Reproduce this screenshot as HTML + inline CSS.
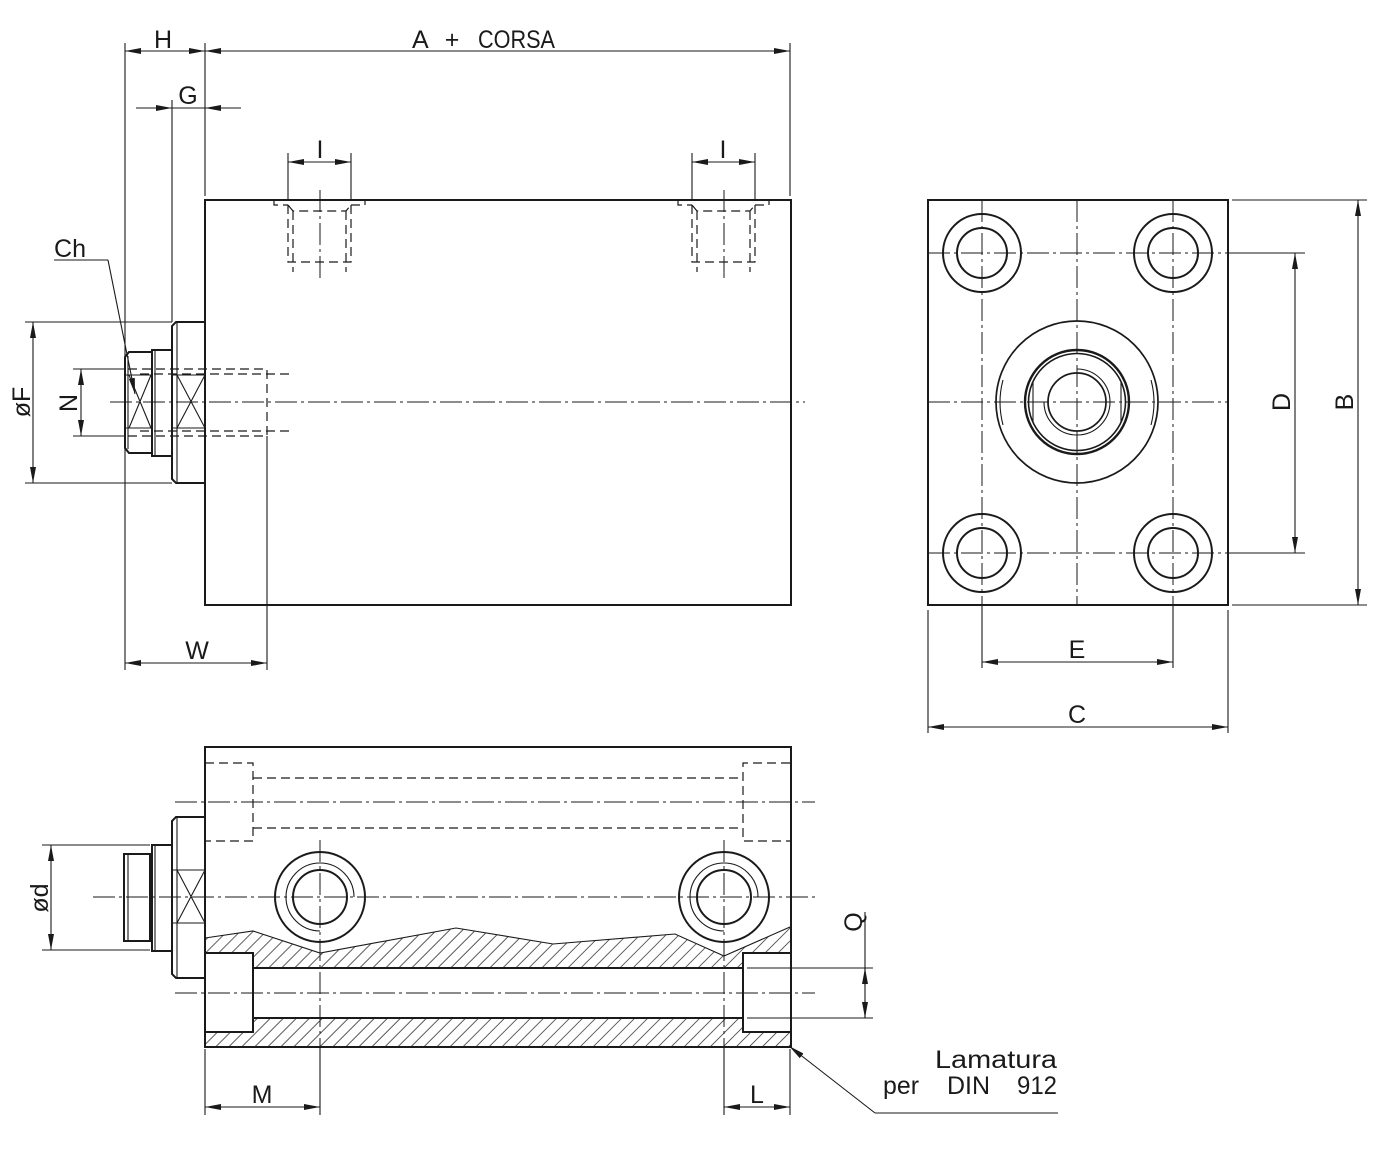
<!DOCTYPE html>
<html><head><meta charset="utf-8">
<style>
html,body{margin:0;padding:0;background:#fff;}
svg{display:block}
text{font-family:"Liberation Sans",sans-serif;fill:#1a1a1a;font-size:25px;}
</style></head><body>
<svg width="1400" height="1166" viewBox="0 0 1400 1166" xmlns="http://www.w3.org/2000/svg">
<defs>
<marker id="ar" viewBox="0 0 16 6" refX="16" refY="3" markerWidth="16" markerHeight="6" markerUnits="userSpaceOnUse" orient="auto-start-reverse"><path d="M0,0 L16,3 L0,6 z" fill="#1a1a1a"/></marker>
<pattern id="hat" patternUnits="userSpaceOnUse" width="9.2" height="9.2" patternTransform="rotate(45)"><line x1="0" y1="0" x2="0" y2="9.2" stroke="#1a1a1a" stroke-width="1.4"/></pattern>
</defs>

<!-- hatch fills -->
<path d="M205,938 L253,931 L320,953 L456,928 L553,944 L675,934 L724,956 L790,927 V953 H743 V968 H253 V953 H205 Z" fill="url(#hat)" stroke="none"/>
<path d="M253,1018 H743 V1032 H790 V1047 H205 V1032 H253 Z" fill="url(#hat)" stroke="none"/>

<!-- THICK OUTLINES -->
<g fill="none" stroke="#1a1a1a" stroke-width="2">
  <rect x="205" y="200" width="586" height="405"/>
  <path d="M176,322 H205 V483 H176 L172,479 V326 Z"/>
  <path d="M152,350 H172 V456 H152 Z"/>
  <path d="M129,352 H152 V453 H129 L125,448 V357 Z"/>
  <rect x="928" y="200" width="300" height="405"/>
  <circle cx="982" cy="253" r="39"/><circle cx="982" cy="253" r="25"/>
  <circle cx="1173" cy="253" r="39"/><circle cx="1173" cy="253" r="25"/>
  <circle cx="982" cy="553" r="39"/><circle cx="982" cy="553" r="25"/>
  <circle cx="1173" cy="553" r="39"/><circle cx="1173" cy="553" r="25"/>
  <circle cx="1077" cy="402" r="81" stroke-width="1.7"/>
  <circle cx="1077" cy="402" r="52" stroke-width="2.4"/>
  <circle cx="1077" cy="402" r="48.5" stroke-width="1.6"/>
  <circle cx="1077" cy="402" r="29" stroke-width="1.7"/>
  <rect x="205" y="747" width="586" height="300"/>
  <path d="M205,953 H253 V1032 H205"/>
  <path d="M790,953 H743 V1032 H790"/>
  <path d="M253,968 H743 M253,1018 H743"/>
  <circle cx="320" cy="897" r="45"/><circle cx="320" cy="897" r="27"/>
  <circle cx="724" cy="897" r="45"/><circle cx="724" cy="897" r="27"/>
  <path d="M176,817 H205 V978 H176 L172,974 V821 Z"/>
  <path d="M152,845 H172 V951 H152 Z"/>
  <path d="M124,854 H150 V941 H124 Z"/>
</g>

<!-- THIN LINES -->
<g fill="none" stroke="#1a1a1a" stroke-width="1.1">
  <path d="M177,322 V483 M172,375 H205 M172,428 H205 M177,375 L205,428 M177,428 L205,375"/>
  <path d="M155,350 V456"/>
  <path d="M128,356 V449 M126,375 H152 M126,428 H152 M129,375 L151,428 M129,428 L151,375"/>
  <path d="M177,817 V978 M172,870 H205 M172,923 H205 M177,870 L205,923 M177,923 L205,870"/>
  <path d="M155,845 V951 M128,854 V941"/>
  <path d="M1003,380 Q997,402 1003,425 M1151,380 Q1157,402 1151,425"/>
  <path d="M1033,382 V422 M1121,382 V422"/>
  <path d="M1077,369 A33,33 0 1 1 1044,402"/>
  <path d="M354,897 A34,34 0 1 0 320,931"/>
  <path d="M758,897 A34,34 0 1 0 724,931"/>
  <path d="M205,938 L253,931 L320,953 L456,928 L553,944 L675,934 L724,956 L790,927"/>

  <path d="M125,43 V670 M205,43 V196 M790,43 V196"/>
  <line x1="125" y1="51" x2="205" y2="51" marker-start="url(#ar)" marker-end="url(#ar)"/>
  <line x1="205" y1="51" x2="790" y2="51" marker-start="url(#ar)" marker-end="url(#ar)"/>
  <path d="M172,100 V322 M136,108 H241"/>
  <line x1="150" y1="108" x2="172" y2="108" marker-end="url(#ar)"/>
  <line x1="228" y1="108" x2="205" y2="108" marker-end="url(#ar)"/>
  <path d="M288,153 V200 M351,153 V200 M692,153 V200 M755,153 V200"/>
  <line x1="288" y1="162" x2="351" y2="162" marker-start="url(#ar)" marker-end="url(#ar)"/>
  <line x1="692" y1="162" x2="755" y2="162" marker-start="url(#ar)" marker-end="url(#ar)"/>
  <path d="M54,260 H108"/>
  <line x1="108" y1="260" x2="135" y2="394" marker-end="url(#ar)"/>
  <path d="M25,322 H172 M25,483 H172 M73,369 H126 M73,436 H126"/>
  <line x1="33" y1="322" x2="33" y2="483" marker-start="url(#ar)" marker-end="url(#ar)"/>
  <line x1="81" y1="369" x2="81" y2="436" marker-start="url(#ar)" marker-end="url(#ar)"/>
  <path d="M267,436 V670"/>
  <line x1="125" y1="663" x2="267" y2="663" marker-start="url(#ar)" marker-end="url(#ar)"/>

  <path d="M1228,253 H1305 M1228,553 H1305 M1232,200 H1367 M1232,605 H1367"/>
  <line x1="1295" y1="253" x2="1295" y2="553" marker-start="url(#ar)" marker-end="url(#ar)"/>
  <line x1="1358" y1="200" x2="1358" y2="605" marker-start="url(#ar)" marker-end="url(#ar)"/>
  <path d="M982,605 V668 M1173,605 V668 M928,610 V733 M1228,610 V733"/>
  <line x1="982" y1="662" x2="1173" y2="662" marker-start="url(#ar)" marker-end="url(#ar)"/>
  <line x1="928" y1="727" x2="1228" y2="727" marker-start="url(#ar)" marker-end="url(#ar)"/>

  <path d="M42,845 H150 M42,950 H150"/>
  <line x1="51" y1="845" x2="51" y2="950" marker-start="url(#ar)" marker-end="url(#ar)"/>
  <path d="M747,968 H873 M747,1018 H873 M865,912 V1018"/>
  <line x1="865" y1="986" x2="865" y2="968" marker-end="url(#ar)"/>
  <line x1="865" y1="1000" x2="865" y2="1018" marker-end="url(#ar)"/>
  <path d="M205,1049 V1115 M320,1047 V1115 M724,1047 V1115 M790,1049 V1115"/>
  <line x1="205" y1="1107" x2="320" y2="1107" marker-start="url(#ar)" marker-end="url(#ar)"/>
  <line x1="724" y1="1107" x2="790" y2="1107" marker-start="url(#ar)" marker-end="url(#ar)"/>
  <path d="M875,1113 H1058"/>
  <line x1="875" y1="1113" x2="789" y2="1046" marker-end="url(#ar)"/>
</g>

<!-- HIDDEN (dashed) -->
<g fill="none" stroke="#1a1a1a" stroke-width="1.2" stroke-dasharray="9 5">
  <path d="M274,200 V205 H288 M351,205 H365 V200"/>
  <path d="M288,205 V262 H351 V205 M288,205 L293,211 H346 L351,205 M293,211 V272 M346,211 V272"/>
  <path d="M678,200 V205 H692 M755,205 H769 V200"/>
  <path d="M692,205 V262 H755 V205 M692,205 L697,211 H750 L755,205 M697,211 V272 M750,211 V272"/>
  <path d="M128,369 H267 V436 H128"/>
  <path d="M140,374 H292 M140,431 H292"/>
  <path d="M205,763 H253 V841 H205"/>
  <path d="M790,763 H743 V841 H790"/>
  <path d="M253,778 H743 M253,828 H743"/>
</g>

<!-- CENTER LINES -->
<g fill="none" stroke="#1a1a1a" stroke-width="1" stroke-dasharray="22 4 3 4">
  <path d="M320,190 V280 M724,190 V280"/>
  <path d="M110,402 H805"/>
  <path d="M982,200 V605 M1077,200 V605 M1173,200 V605"/>
  <path d="M928,253 H1228 M928,402 H1228 M928,553 H1228"/>
  <path d="M175,802 H815 M93,897 H815 M175,993 H815"/>
  <path d="M320,840 V1047 M724,840 V1047"/>
</g>

<!-- TEXT -->
<text x="163" y="48" text-anchor="middle">H</text>
<text x="412" y="48">A</text>
<text x="452" y="48" text-anchor="middle">+</text>
<text x="478" y="48" textLength="77" lengthAdjust="spacingAndGlyphs">CORSA</text>
<text x="188" y="104" text-anchor="middle">G</text>
<text x="320" y="158" text-anchor="middle">I</text>
<text x="723" y="158" text-anchor="middle">I</text>
<text x="54" y="257" font-size="29" textLength="32" lengthAdjust="spacingAndGlyphs">Ch</text>
<text transform="translate(30,402) rotate(-90)" text-anchor="middle">øF</text>
<text transform="translate(77,403) rotate(-90)" text-anchor="middle">N</text>
<text x="197" y="659" text-anchor="middle">W</text>
<text transform="translate(1290,402) rotate(-90)" text-anchor="middle">D</text>
<text transform="translate(1353,402) rotate(-90)" text-anchor="middle">B</text>
<text x="1077" y="658" text-anchor="middle">E</text>
<text x="1077" y="723" text-anchor="middle">C</text>
<text transform="translate(48,898) rotate(-90)" text-anchor="middle">ød</text>
<text transform="translate(862,922) rotate(-90)" text-anchor="middle">Q</text>
<text x="262" y="1103" text-anchor="middle">M</text>
<text x="757" y="1103" text-anchor="middle">L</text>
<text x="935" y="1068" font-size="26" textLength="122" lengthAdjust="spacingAndGlyphs">Lamatura</text>
<text x="883" y="1094" font-size="26" textLength="36" lengthAdjust="spacingAndGlyphs">per</text>
<text x="947" y="1094" font-size="26" textLength="43" lengthAdjust="spacingAndGlyphs">DIN</text>
<text x="1017" y="1094" font-size="26" textLength="40" lengthAdjust="spacingAndGlyphs">912</text>
</svg>
</body></html>
